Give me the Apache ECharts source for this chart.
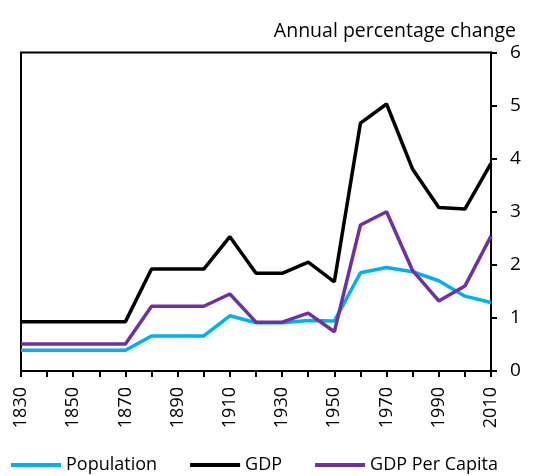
<!DOCTYPE html>
<html><head><meta charset="utf-8">
<script src="https://cdn.jsdelivr.net/npm/echarts@6/dist/echarts.min.js"></script>
<style>html,body{margin:0;padding:0;background:#fff}#c{width:555px;height:476px}</style>
</head><body><div id="c"></div>
<script>
const years = ['1830','1840','1850','1860','1870','1880','1890','1900','1910','1920','1930','1940','1950','1960','1970','1980','1990','2000','2010'];
const population = [0.39,0.39,0.39,0.39,0.39,0.66,0.66,0.66,1.04,0.91,0.91,0.95,0.94,1.85,1.95,1.87,1.70,1.41,1.29];
const gdp = [0.93,0.93,0.93,0.93,0.93,1.92,1.92,1.92,2.53,1.84,1.84,2.05,1.68,4.67,5.03,3.80,3.08,3.05,3.91];
const gdpPerCapita = [0.51,0.51,0.51,0.51,0.51,1.22,1.22,1.22,1.45,0.92,0.92,1.09,0.74,2.75,3.00,1.89,1.32,1.60,2.54];
const yTitle = 'Annual percentage change';

const FONT = 'Open Sans';
const chart = echarts.init(document.getElementById('c'));
chart.setOption({
  animation: false,
  textStyle: {fontFamily: FONT},
  title: {text: yTitle, right: 34, top: 16, textStyle: {fontFamily: FONT, fontSize: 19.5, fontWeight: 'normal', color: '#000'}},
  grid: {left: 21, right: 64, top: 52.5, bottom: 105, show: true, borderColor: '#000', borderWidth: 2, containLabel: false},
  legend: {
    top: 451, left: 6, itemWidth: 50, itemHeight: 4, itemGap: 33, icon: 'rect',
    textStyle: {fontFamily: FONT, fontSize: 18, color: '#000'},
    data: ['Population','GDP','GDP Per Capita']
  },
  xAxis: {
    type: 'category', data: years, boundaryGap: false,
    axisLine: {lineStyle: {color: '#000', width: 2}},
    axisTick: {show: true, interval: 0, length: 6, lineStyle: {color: '#000', width: 2}},
    axisLabel: {interval: 1, rotate: 90, fontSize: 18, color: '#000', fontFamily: FONT, margin: 16},
    splitLine: {show: false}
  },
  yAxis: {
    type: 'value', position: 'right', min: 0, max: 6, interval: 1,
    axisLine: {show: true, lineStyle: {color: '#000', width: 2}},
    axisTick: {show: true, length: 6, lineStyle: {color: '#000', width: 2}},
    axisLabel: {fontSize: 19, color: '#000', fontFamily: FONT, margin: 19},
    splitLine: {show: false}
  },
  series: [
    {name: 'Population', type: 'line', data: population, symbol: 'none', lineStyle: {color: '#00b0f0', width: 3.5}, itemStyle: {color: '#00b0f0'}},
    {name: 'GDP', type: 'line', data: gdp, symbol: 'none', lineStyle: {color: '#000', width: 3.5}, itemStyle: {color: '#000'}},
    {name: 'GDP Per Capita', type: 'line', data: gdpPerCapita, symbol: 'none', lineStyle: {color: '#7030a0', width: 3.5}, itemStyle: {color: '#7030a0'}}
  ]
});
</script></body></html>
